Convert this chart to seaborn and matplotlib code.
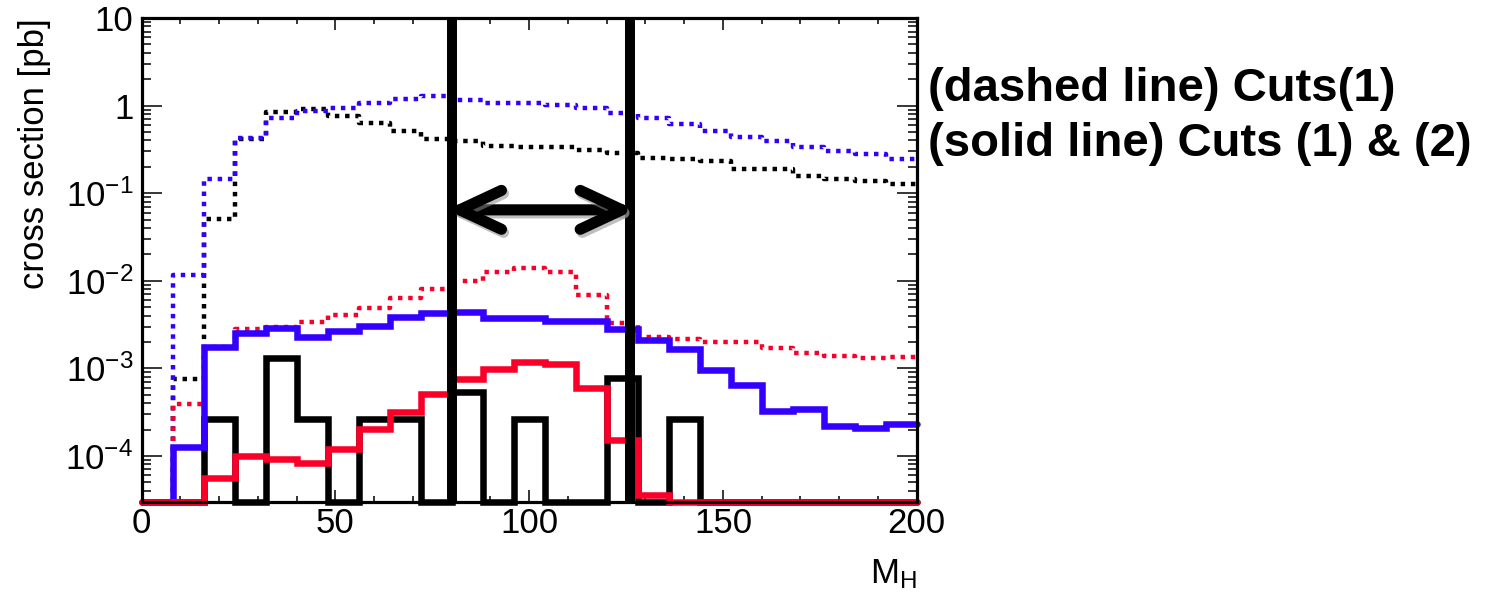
import numpy as np
import pandas as pd
import matplotlib
matplotlib.use("Agg")
import matplotlib.pyplot as plt
import seaborn as sns
from matplotlib.ticker import MultipleLocator, LogLocator, FuncFormatter, NullFormatter
from matplotlib import patheffects as pe

# ---- binning (M_H, 8 GeV bins from 0 to 200) ----
BIN_EDGES = list(range(0, 201, 8))

# ---- cross sections per bin [pb] ----
# dashed: after Cuts(1)
blue_cut1 = [0, 0.0117, 0.145, 0.427, 0.73, 0.868, 0.946, 1.06, 1.2, 1.28,
             1.17, 1.06, 1.07, 1.02, 0.93, 0.83, 0.73, 0.61, 0.51, 0.44,
             0.39, 0.34, 0.30, 0.278, 0.244]
black_cut1 = [0, 7.6e-4, 0.0507, 0.42, 0.85, 0.91, 0.76, 0.63, 0.51, 0.42,
              0.39, 0.35, 0.34, 0.34, 0.31, 0.285, 0.25, 0.245, 0.235, 0.19,
              0.19, 0.158, 0.144, 0.136, 0.127]
red_cut1 = [0, 3.95e-4, 1.75e-3, 2.79e-3, 2.99e-3, 3.41e-3, 4.07e-3, 4.86e-3,
            6.3e-3, 8.05e-3, 9.96e-3, 0.0125, 0.0139, 0.0127, 6.9e-3, 3.27e-3,
            2.26e-3, 2.15e-3, 2.0e-3, 2.0e-3, 1.7e-3, 1.49e-3, 1.39e-3,
            1.30e-3, 1.36e-3]
# solid: after Cuts(1) & (2)
blue_cut12 = [0, 1.28e-4, 1.77e-3, 2.51e-3, 2.86e-3, 2.26e-3, 2.67e-3, 3.05e-3,
              3.89e-3, 4.32e-3, 4.44e-3, 3.78e-3, 3.78e-3, 3.48e-3, 3.48e-3,
              2.82e-3, 2.11e-3, 1.66e-3, 9.6e-4, 6.45e-4, 3.27e-4, 3.44e-4,
              2.22e-4, 2.1e-4, 2.32e-4]
red_cut12 = [0, 0, 5.66e-5, 1.01e-4, 9.25e-5, 8.4e-5, 1.2e-4, 2.03e-4, 3.2e-4,
             5.1e-4, 7.5e-4, 9.75e-4, 1.19e-3, 1.11e-3, 6.02e-4, 1.52e-4,
             3.59e-5, 0, 0, 0, 0, 0, 0, 0, 0]
black_cut12 = [0, 0, 2.65e-4, 0, 1.3e-3, 2.65e-4, 0, 2.65e-4, 2.65e-4, 0,
               5.3e-4, 0, 2.65e-4, 0, 0, 7.7e-4, 0, 2.65e-4, 0, 0,
               0, 0, 0, 0, 0]

# mass window
CUT_LOW, CUT_HIGH = 80, 126
ARROW_Y = 0.0645

X_LIM = (0, 200)
Y_LIM = (3.0e-5, 10)

BLUE = "#3300ff"
RED = "#fa0028"
BLACK = "#000000"

sns.set_theme(style="ticks")
plt.rcParams["font.family"] = ["Liberation Sans", "DejaVu Sans"]
plt.rcParams["mathtext.fontset"] = "custom"
plt.rcParams["mathtext.rm"] = "Liberation Sans"

fig = plt.figure(figsize=(14.96, 5.97), dpi=100)
ax = fig.add_axes([141.7 / 1496, 1 - 501.7 / 597, 775 / 1496, 483.7 / 597])
ax.set_yscale("log")


def step_frame(values):
    """Bin contents as step points; empty bins sit on the frame floor."""
    v = np.asarray(values, dtype=float)
    v = np.where(v > 0, v, Y_LIM[0])
    return pd.DataFrame({"m": BIN_EDGES, "xs": np.append(v, v[-1])})


DOT = (0, (1.0, 1.3))
dashed = [(black_cut1, BLACK), (blue_cut1, BLUE), (red_cut1, RED)]
solid = [(black_cut12, BLACK), (blue_cut12, BLUE), (red_cut12, RED)]

for vals, col in dashed:
    sns.lineplot(data=step_frame(vals), x="m", y="xs", ax=ax, color=col,
                 drawstyle="steps-post", linestyle=DOT, linewidth=3.2,
                 dash_capstyle="butt", errorbar=None, clip_on=False)
for vals, col in solid:
    sns.lineplot(data=step_frame(vals), x="m", y="xs", ax=ax, color=col,
                 drawstyle="steps-post", linewidth=4.7, solid_joinstyle="miter",
                 errorbar=None, clip_on=False)

# mass window boundaries
for xc in (CUT_LOW, CUT_HIGH):
    ax.axvline(xc, color="black", linewidth=7.2, zorder=5)

# window arrow with soft shadow
ann = ax.annotate("", xy=(CUT_LOW - 1.3, ARROW_Y), xytext=(CUT_HIGH + 1.3, ARROW_Y),
                  arrowprops=dict(arrowstyle="<->,head_length=3.0,head_width=1.4",
                                  mutation_scale=10, color="black", lw=8,
                                  shrinkA=0, shrinkB=0, capstyle="round",
                                  joinstyle="round"),
                  zorder=6)
ann.arrow_patch.set_path_effects([
    pe.SimpleLineShadow(offset=(1.5, -2.2), shadow_color="0.55", alpha=0.55),
    pe.Normal()])

ax.set_xlim(*X_LIM)
ax.set_ylim(*Y_LIM)

# ticks on all four sides, pointing inward
ax.xaxis.set_major_locator(MultipleLocator(50))
ax.xaxis.set_minor_locator(MultipleLocator(10))
ax.yaxis.set_major_locator(LogLocator(base=10, numticks=20))
ax.yaxis.set_minor_locator(LogLocator(base=10, subs=np.arange(2, 10), numticks=20))
ax.yaxis.set_minor_formatter(NullFormatter())


def ylab(v, _pos):
    e = int(round(np.log10(v)))
    if e == 1:
        return "10"
    if e == 0:
        return "1"
    return r"$\mathregular{10^{%d}}$" % e


ax.yaxis.set_major_formatter(FuncFormatter(ylab))
ax.tick_params(which="both", direction="in", top=True, right=True,
               width=1.1, color="black", labelsize=25, labelcolor="black")
ax.tick_params(axis="x", which="major", length=8.6, pad=4)
ax.tick_params(axis="x", which="minor", length=4.3)
ax.tick_params(axis="y", which="major", length=14.4, pad=6)
ax.tick_params(axis="y", which="minor", length=6.5)

for s in ax.spines.values():
    s.set_linewidth(2.3)
    s.set_color("black")
    s.set_zorder(7)

ax.set_ylabel("cross section [pb]", fontsize=25, loc="top", color="black")
ax.yaxis.set_label_coords(-0.117, 1.0)
ax.set_xlabel(r"$\mathregular{M_H}$", fontsize=25, loc="right", color="black")
ax.xaxis.set_label_coords(1.0, -0.115)

fig.text(928 / 1496, 1 - 101 / 597, "(dashed line) Cuts(1)", fontsize=34,
         fontweight="bold", color="black", va="baseline", ha="left")
fig.text(928 / 1496, 1 - 156 / 597, "(solid line) Cuts (1) & (2)", fontsize=34,
         fontweight="bold", color="black", va="baseline", ha="left")

fig.savefig("out.png", dpi=100)
